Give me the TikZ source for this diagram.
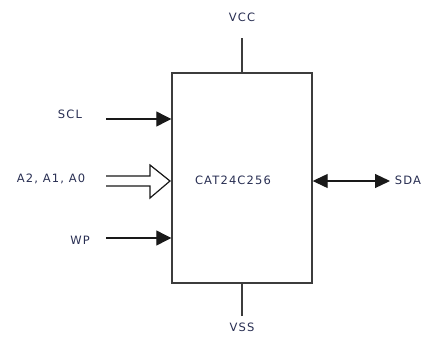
\documentclass[tikz,border=0pt]{standalone}
\usepackage{fontspec}
\setmainfont{DejaVu Sans}[LetterSpace=10]
\usetikzlibrary{arrows.meta}
\definecolor{txt}{RGB}{40,46,82}
\definecolor{ln}{RGB}{60,60,60}
\definecolor{hd}{RGB}{25,25,25}
\begin{document}
\begin{tikzpicture}[x=1pt,y=-1pt,
  lbl/.style={text=txt,font=\fontsize{11.5}{13}\selectfont,inner sep=0pt},
  wire/.style={draw=ln,line width=1.4pt},
  sig/.style={draw=hd,line width=1.2pt,-{Triangle[length=15pt,width=15pt,fill=hd]}},
  bisig/.style={draw=hd,line width=1.2pt,{Triangle[length=15pt,width=14pt,fill=hd]}-{Triangle[length=15pt,width=14pt,fill=hd]}},
  chip/.style={draw=ln,line width=1.4pt,minimum width=140pt,minimum height=210pt,inner sep=0pt}]
\useasboundingbox (0,0) rectangle (426,338);
\node[chip] (box) at (242,178) {};
\node[lbl] (name) at (233,180) {CAT24C256};
\node[lbl] (vcc) at (242,17) {VCC};
\node[lbl] (vss) at (242,327) {VSS};
\node[lbl] (scl) at (70,114) {SCL};
\node[lbl] (addr) at (51,179) {A2, A1, A0};
\node[lbl] (wp) at (80,240) {WP};
\node[lbl] (sda) at (408,180) {SDA};
\coordinate (vcce) at (242,38);
\coordinate (vsse) at (242,316);
\coordinate (scls) at (106,119);
\coordinate (wps) at (106,238);
\coordinate (sdae) at (390,181);
\draw[wire] (vcce) -- (vcce |- box.north);
\draw[wire] (vsse) -- (vsse |- box.south);
\draw[sig] (scls) -- (scls -| box.west);
\draw[sig] (wps) -- (wps -| box.west);
\draw[bisig] (sdae -| box.east) -- (sdae);
\draw[draw=hd,line width=1.2pt,line join=miter]
  (106,176) -- (150,176) -- (150,165) -- (170,181) -- (150,198) -- (150,186) -- (106,186);
\end{tikzpicture}
\end{document}
